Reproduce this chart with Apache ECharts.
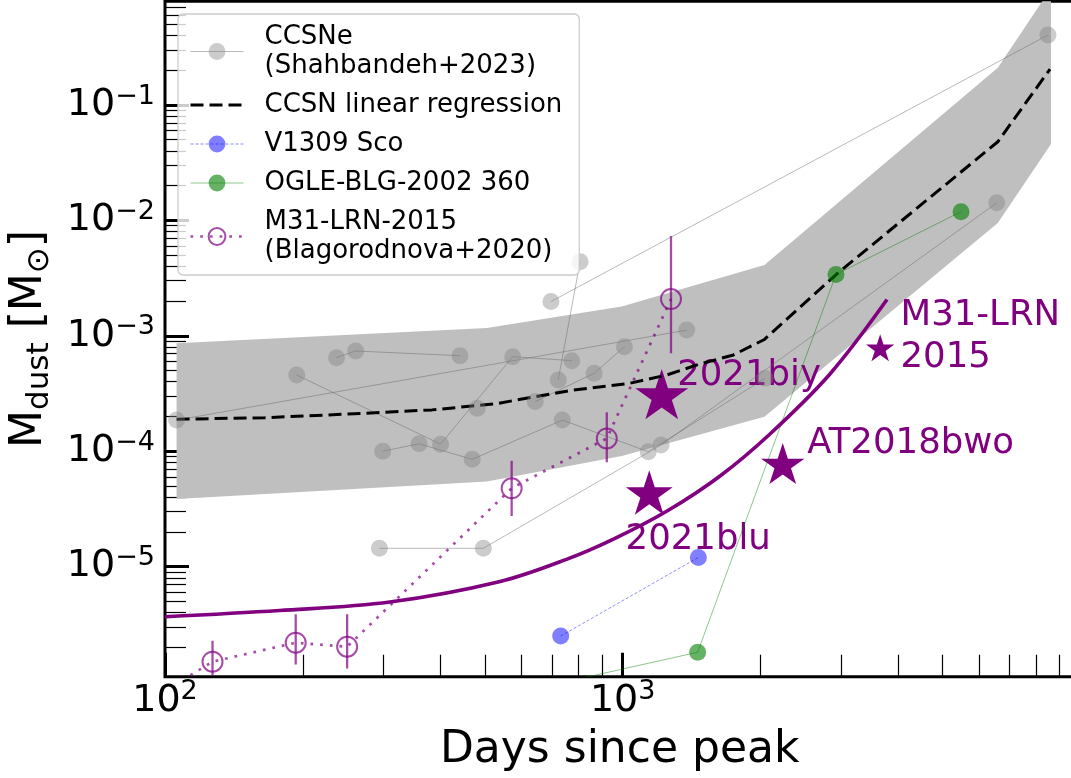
<!DOCTYPE html>
<html lang="en">
<head>
<meta charset="UTF-8">
<title>Dust mass vs days since peak</title>
<style>
  html, body { margin: 0; padding: 0; background: #fff; }
  #app { width: 1071px; height: 778px; }
</style>
</head>
<body>
<div id="app"></div>
<script src="https://cdn.jsdelivr.net/npm/echarts@6/dist/echarts.min.js"></script>
<script>
// ---- data (days since peak, dust mass in Msun) ----
// CCSNe (Shahbandeh+2023), one track per object
var ccsnDays = [
  [106, 1380],
  [194, 400, 575, 774],
  [237, 261, 441],
  [299, 359, 469, 738, 1137, 2046],
  [294, 496, 1213, 6565],
  [644, 866, 1009],
  [723, 807],
  [697, 8495],
  [481]
];
var ccsnMass = [
  [1.86e-4, 1.12e-3],
  [4.57e-4, 1.15e-4, 6.59e-4, 6.09e-4],
  [6.46e-4, 7.38e-4, 6.72e-4],
  [1.00e-4, 1.16e-4, 8.5e-5, 1.86e-4, 9.9e-5, 4.28e-4],
  [1.44e-5, 1.44e-5, 1.13e-4, 1.42e-2],
  [2.69e-4, 4.73e-4, 8.04e-4],
  [4.14e-4, 4.39e-3],
  [1.98e-3, 0.404],
  [2.35e-4]
];

// CCSN linear regression and its spread
var regDays = [106, 165, 274, 383, 526, 780, 1038, 1247, 1476, 1745, 2040, 2935, 6600, 8583];
var regMass = [1.89e-4, 1.95e-4, 2.13e-4, 2.28e-4, 2.57e-4, 3.39e-4, 3.88e-4, 4.57e-4, 5.70e-4, 6.82e-4, 9.29e-4, 3.43e-3, 4.8e-2, 0.205];
var bandDays = [106, 505, 995, 2040, 6600, 8626];
var bandHigh = [8.6e-4, 1.17e-3, 1.79e-3, 4.11e-3, 0.21, 1.03];
var bandLow = [3.85e-5, 5.45e-5, 9.09e-5, 1.99e-4, 9.5e-3, 4.59e-2];

var v1309Days = [732, 1463];
var v1309Mass = [2.5e-6, 1.2e-5];

var ogleDays = [500, 1458, 2924, 5485];
var ogleMass = [7.0e-7, 1.81e-6, 3.40e-3, 1.19e-2];

// M31-LRN-2015 (Blagorodnova+2020) with error bars
var m31Days = [85, 127, 193, 250, 572, 923, 1275];
var m31Mass = [5.6e-7, 1.5e-6, 2.19e-6, 2.02e-6, 4.77e-5, 1.29e-4, 2.08e-3];
var m31Lo = [null, 1.15e-6, 1.42e-6, 1.31e-6, 2.75e-5, 8.0e-5, 7.06e-4];
var m31Hi = [null, 2.28e-6, 3.86e-6, 3.86e-6, 8.27e-5, 2.17e-4, 7.32e-3];

// purple model curve
var modelDays = [100, 178, 310, 540, 756, 952, 1250, 1632, 2098, 2837, 3780];
var modelMass = [3.68e-6, 4.16e-6, 4.93e-6, 7.43e-6, 1.16e-5, 1.72e-5, 3.03e-5, 6.10e-5, 1.41e-4, 4.67e-4, 2.06e-3];

// LRN stars and their labels
var starNames = ['2021biy', '2021blu', 'AT2018bwo', 'M31-LRN 2015'];
var starDays = [1217, 1143, 2237, 3652];
var starMass = [3.12e-4, 4.39e-5, 7.82e-5, 7.87e-4];
var noteText = ['2021biy', '2021blu', 'AT2018bwo', 'M31-LRN\n2015'];
var noteDays = [1312, 1012, 2523, 4035];
var noteMass = [4.5e-4, 1.70e-5, 1.15e-4, 9.8e-4];

// axis ticks
var xMajor = [100, 1000];
var xMinor = [200, 300, 400, 500, 600, 700, 800, 900, 2000, 3000, 4000, 5000, 6000, 7000, 8000, 9000];
var yMajor = [1e-5, 1e-4, 1e-3, 1e-2, 1e-1];
var yMinor = [];
[-6, -5, -4, -3, -2, -1].forEach(function (p) {
  for (var k = 2; k <= 9; k++) yMinor.push(+(k * Math.pow(10, p)).toPrecision(3));
});

// ---- styles ----
var FONT = 'DejaVu Sans';
var PURPLE = '#800080';
var starWidth = [53, 46.7, 43.3, 28.3];
var STAR = 'path://M0,-100L22.45,-30.9L95.11,-30.9L36.33,11.8L58.78,80.9L0,38.2L-58.78,80.9L-36.33,11.8L-95.11,-30.9L-22.45,-30.9Z';

var CCSN_NAME = 'CCSNe\n(Shahbandeh+2023)';
var M31_NAME = 'M31-LRN-2015\n(Blagorodnova+2020)';

function pairs(xs, ys) {
  return xs.map(function (x, i) { return [x, ys[i]]; });
}

function powLabel(v) {
  var e = Math.round(Math.log10(v));
  return '{b|10}{s|' + (e < 0 ? '\u2212' + (-e) : e) + '}';
}

var powRich = {
  b: { fontFamily: FONT, fontSize: 38, lineHeight: 44, color: '#000' },
  s: { fontFamily: FONT, fontSize: 27, lineHeight: 24, verticalAlign: 'top', color: '#000' }
};

var chart = echarts.init(document.getElementById('app'));

var series = [];

// grey spread band
series.push({
  type: 'custom',
  name: 'band',
  silent: true,
  clip: true,
  data: [[bandDays[0], bandLow[0]]],
  renderItem: function (params, api) {
    var pts = [];
    for (var i = 0; i < bandDays.length; i++) pts.push(api.coord([bandDays[i], bandHigh[i]]));
    for (var j = bandDays.length - 1; j >= 0; j--) pts.push(api.coord([bandDays[j], bandLow[j]]));
    return { type: 'polygon', shape: { points: pts }, style: { fill: '#bfbfbf' } };
  }
});

ccsnDays.forEach(function (days, i) {
  series.push({
    type: 'line',
    name: CCSN_NAME,
    data: pairs(days, ccsnMass[i]),
    symbol: 'circle',
    symbolSize: 17,
    itemStyle: { color: 'rgba(128,128,128,0.4)' },
    lineStyle: { color: 'rgba(100,100,100,0.5)', width: 0.9 }
  });
});

series.push({
  type: 'line',
  name: 'V1309 Sco',
  data: pairs(v1309Days, v1309Mass),
  symbol: 'circle',
  symbolSize: 17,
  itemStyle: { color: 'rgba(0,0,255,0.5)' },
  lineStyle: { color: 'rgba(0,0,255,0.5)', width: 0.9, type: [3, 2] }
});

series.push({
  type: 'line',
  name: 'OGLE-BLG-2002 360',
  data: pairs(ogleDays, ogleMass),
  symbol: 'circle',
  symbolSize: 17,
  itemStyle: { color: 'rgba(0,128,0,0.6)' },
  lineStyle: { color: 'rgba(0,128,0,0.5)', width: 0.9 }
});

// M31 error bars
series.push({
  type: 'custom',
  name: 'm31err',
  silent: true,
  clip: true,
  data: m31Days.map(function (d, i) { return [d, m31Lo[i], m31Hi[i]]; })
    .filter(function (r) { return r[1] != null; }),
  encode: { x: 0, y: [1, 2] },
  renderItem: function (params, api) {
    var lo = api.coord([api.value(0), api.value(1)]);
    var hi = api.coord([api.value(0), api.value(2)]);
    return {
      type: 'line',
      shape: { x1: lo[0], y1: lo[1], x2: hi[0], y2: hi[1] },
      style: { stroke: 'rgba(128,0,128,0.7)', lineWidth: 2.3 }
    };
  }
});

series.push({
  type: 'line',
  name: M31_NAME,
  data: pairs(m31Days, m31Mass),
  symbol: 'circle',
  symbolSize: 20,
  itemStyle: { color: 'rgba(0,0,0,0)', borderColor: 'rgba(128,0,128,0.7)', borderWidth: 2 },
  lineStyle: { color: 'rgba(128,0,128,0.7)', width: 2.7, type: [2.7, 7], cap: 'butt' }
});

series.push({
  type: 'line',
  name: 'CCSN linear regression',
  data: pairs(regDays, regMass),
  symbol: 'none',
  itemStyle: { color: 'rgba(0,0,0,0)' },
  lineStyle: { color: '#000', width: 3, type: [13, 6] }
});

series.push({
  type: 'line',
  name: 'model',
  data: pairs(modelDays, modelMass),
  symbol: 'none',
  smooth: 0.35,
  lineStyle: { color: PURPLE, width: 3.6 }
});

series.push({
  type: 'scatter',
  name: 'stars',
  data: pairs(starDays, starMass),
  symbol: STAR,
  symbolSize: function (val, params) {
    var w = starWidth[params.dataIndex];
    return [w, w / 1.0514];
  },
  itemStyle: { color: PURPLE, opacity: 1 }
});

series.push({
  type: 'scatter',
  name: 'notes',
  data: pairs(noteDays, noteMass),
  symbolSize: 1,
  itemStyle: { color: 'rgba(0,0,0,0)', opacity: 1 },
  label: {
    show: true,
    position: 'right',
    distance: 0,
    formatter: function (p) { return noteText[p.dataIndex]; },
    fontFamily: FONT,
    fontSize: 35.5,
    lineHeight: 42,
    color: PURPLE,
    opacity: 1
  }
});

var option = {
  animation: false,
  textStyle: { fontFamily: FONT },
  grid: {
    left: 165, top: 1.3, width: 909.35, height: 675.4,
    show: true, borderColor: '#000', borderWidth: 3, backgroundColor: 'transparent',
    containLabel: false, outerBoundsMode: 'none'
  },
  legend: {
    orient: 'vertical',
    left: 178, top: 14,
    padding: [8.5, 17, 9.5, 11],
    itemGap: 10, itemWidth: 53, itemHeight: 21,
    selectedMode: false,
    backgroundColor: 'rgba(255,255,255,0.8)',
    borderColor: '#cccccc', borderWidth: 1.3, borderRadius: 5,
    textStyle: { fontFamily: FONT, fontSize: 26, lineHeight: 29, color: '#000', padding: [0, 0, 0, 16] },
    lineStyle: { width: 'inherit' },
    data: [CCSN_NAME, 'CCSN linear regression', 'V1309 Sco', 'OGLE-BLG-2002 360', M31_NAME]
  },
  xAxis: [{
    type: 'log', min: 100, max: 9700, position: 'bottom',
    name: 'Days since peak', nameLocation: 'middle', nameGap: 49, nameMoveOverlap: false,
    nameTextStyle: { fontFamily: FONT, fontSize: 44, lineHeight: 50, color: '#000' },
    axisLine: { show: false, onZero: false },
    axisTick: { inside: true, length: 24, customValues: xMajor, lineStyle: { color: '#000', width: 3 } },
    axisLabel: { customValues: xMajor, margin: 2, formatter: powLabel, rich: powRich, color: '#000' },
    splitLine: { show: false },
    minorTick: { show: false }
  }, {
    type: 'log', min: 100, max: 9700, position: 'bottom',
    axisLine: { show: false, onZero: false },
    axisTick: { inside: true, length: 22, customValues: xMinor, lineStyle: { color: '#000', width: 1.2 } },
    axisLabel: { show: false },
    splitLine: { show: false }
  }],
  yAxis: [{
    type: 'log', min: 1.111e-6, max: 0.7917, position: 'left',
    name: '{m|M}{s|dust}{m| [M}{s|\u2299}{m|]}',
    nameLocation: 'middle', nameRotate: 90, nameGap: 110, nameMoveOverlap: false,
    nameTextStyle: {
      rich: {
        m: { fontFamily: FONT, fontSize: 44, lineHeight: 50, color: '#000' },
        s: { fontFamily: FONT, fontSize: 31, lineHeight: 36, verticalAlign: 'bottom', color: '#000' }
      }
    },
    axisLine: { show: false, onZero: false },
    axisTick: { inside: true, length: 24, customValues: yMajor, lineStyle: { color: '#000', width: 3 } },
    axisLabel: { customValues: yMajor, margin: 10, formatter: powLabel, rich: powRich, color: '#000' },
    splitLine: { show: false },
    minorTick: { show: false }
  }, {
    type: 'log', min: 1.111e-6, max: 0.7917, position: 'left',
    axisLine: { show: false, onZero: false },
    axisTick: { inside: true, length: 21, customValues: yMinor, lineStyle: { color: '#000', width: 1.2 } },
    axisLabel: { show: false },
    splitLine: { show: false }
  }],
  series: series
};

chart.setOption(option);
</script>
</body>
</html>
